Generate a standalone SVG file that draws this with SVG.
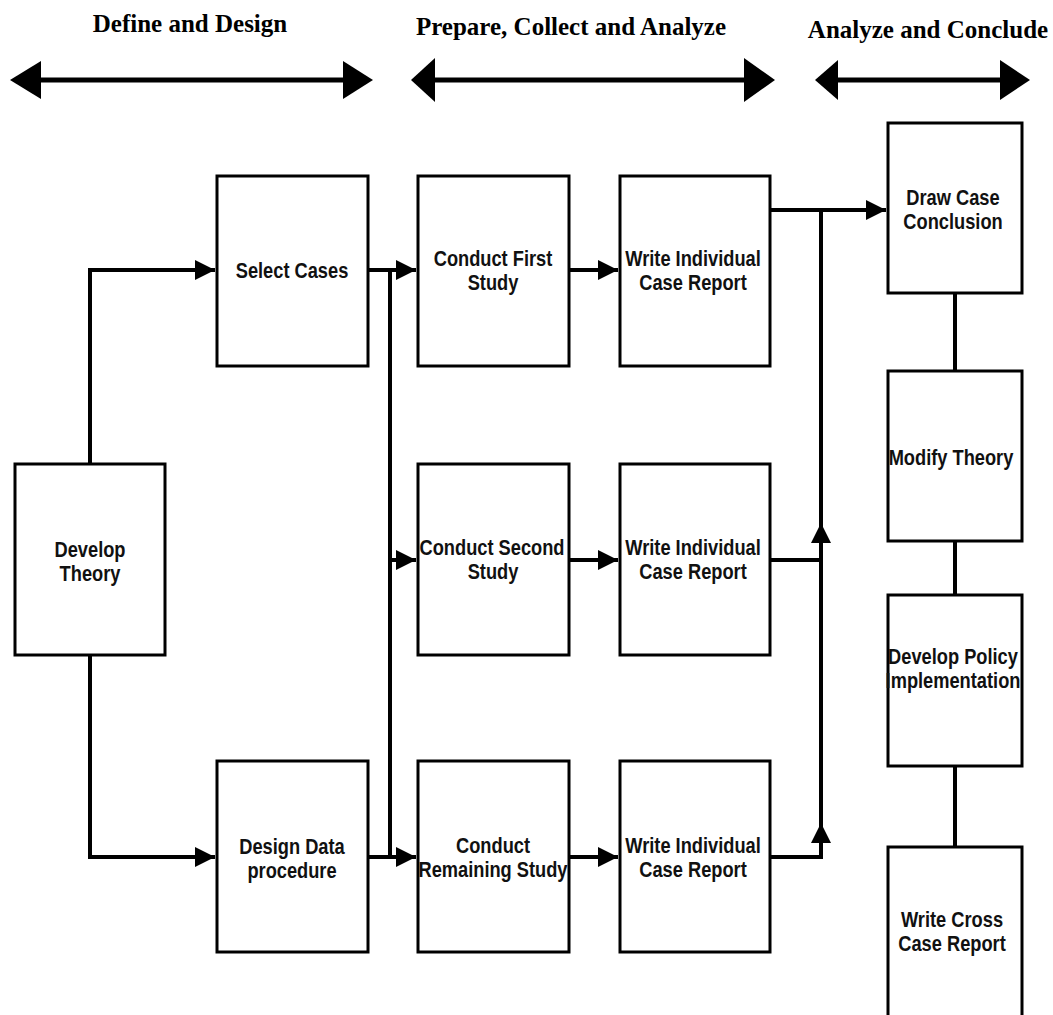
<svg xmlns="http://www.w3.org/2000/svg" width="1053" height="1015" viewBox="0 0 1053 1015">
  <defs>
    <marker id="arrow" viewBox="0 0 10 10" refX="10" refY="5" markerWidth="5" markerHeight="5" markerUnits="strokeWidth" orient="auto">
      <path d="M0,0 L10,5 L0,10 Z" fill="#000"/>
    </marker>
    <style>
      .box { fill: #fff; stroke: #000; stroke-width: 3; }
      .lbl { font-family: "Liberation Sans Narrow", "Liberation Sans", Arial, sans-serif; font-weight: bold; font-size: 22px; fill: #111; text-anchor: middle; }
      .hdr { font-family: "Liberation Serif", "Times New Roman", serif; font-weight: bold; font-size: 25px; fill: #000; text-anchor: middle; }
      .wire { fill: none; stroke: #000; stroke-width: 4; }
      .link { fill: none; stroke: #000; stroke-width: 4; }
      .span { stroke: #000; stroke-width: 5; }
      .head { fill: #000; }
    </style>
  </defs>

  <!-- phase headings with double-headed span arrows -->
  <g id="phase-define">
    <text class="hdr" x="190" y="32">Define and Design</text>
    <line class="span" x1="30" y1="80" x2="350" y2="80"/>
    <polygon class="head" points="10,80 41,61 41,99"/>
    <polygon class="head" points="373,80 343,61 343,99"/>
  </g>
  <g id="phase-prepare">
    <text class="hdr" x="571" y="35">Prepare, Collect and Analyze</text>
    <line class="span" x1="430" y1="80" x2="755" y2="80"/>
    <polygon class="head" points="411,80 435,58 435,102"/>
    <polygon class="head" points="775,80 744,58 744,102"/>
  </g>
  <g id="phase-conclude">
    <text class="hdr" x="928" y="38">Analyze and Conclude</text>
    <line class="span" x1="830" y1="80" x2="1010" y2="80"/>
    <polygon class="head" points="815,80 838,60 838,100"/>
    <polygon class="head" points="1030,80 1000,60 1000,100"/>
  </g>

  <!-- connectors -->
  <g id="connectors">
    <polyline class="wire" points="90,464 90,270 215,270" marker-end="url(#arrow)"/>
    <polyline class="wire" points="90,655 90,857 215,857" marker-end="url(#arrow)"/>
    <line class="wire" x1="368" y1="270" x2="416" y2="270" marker-end="url(#arrow)"/>
    <line class="wire" x1="368" y1="857" x2="416" y2="857" marker-end="url(#arrow)"/>
    <line class="wire" x1="390" y1="270" x2="390" y2="857"/>
    <line class="wire" x1="390" y1="560" x2="416" y2="560" marker-end="url(#arrow)"/>
    <line class="wire" x1="569" y1="270" x2="618" y2="270" marker-end="url(#arrow)"/>
    <line class="wire" x1="569" y1="560" x2="618" y2="560" marker-end="url(#arrow)"/>
    <line class="wire" x1="569" y1="857" x2="618" y2="857" marker-end="url(#arrow)"/>
    <line class="wire" x1="770" y1="210" x2="886" y2="210" marker-end="url(#arrow)"/>
    <line class="wire" x1="821" y1="210" x2="821" y2="540"/>
    <polyline class="wire" points="770,560 821,560 821,523" marker-end="url(#arrow)"/>
    <polyline class="wire" points="770,857 821,857 821,823" marker-end="url(#arrow)"/>
    <line class="wire" x1="821" y1="560" x2="821" y2="835"/>
    <line class="link" x1="955" y1="293" x2="955" y2="371"/>
    <line class="link" x1="955" y1="541" x2="955" y2="595"/>
    <line class="link" x1="955" y1="766" x2="955" y2="847"/>
  </g>

  <!-- nodes (labels are narrowed horizontally around their centre) -->
  <g id="develop-theory">
    <rect class="box" x="15" y="464" width="150" height="191"/>
    <text class="lbl" transform="translate(90 0) scale(0.83 1)" y="557">Develop</text>
    <text class="lbl" transform="translate(90 0) scale(0.83 1)" y="581">Theory</text>
  </g>
  <g id="select-cases">
    <rect class="box" x="217" y="176" width="151" height="190"/>
    <text class="lbl" transform="translate(292 0) scale(0.83 1)" y="278">Select Cases</text>
  </g>
  <g id="design-data">
    <rect class="box" x="217" y="761" width="151" height="191"/>
    <text class="lbl" transform="translate(292 0) scale(0.83 1)" y="854">Design Data</text>
    <text class="lbl" transform="translate(292 0) scale(0.83 1)" y="878">procedure</text>
  </g>
  <g id="conduct-first">
    <rect class="box" x="418" y="176" width="151" height="190"/>
    <text class="lbl" transform="translate(493 0) scale(0.83 1)" y="266">Conduct First</text>
    <text class="lbl" transform="translate(493 0) scale(0.83 1)" y="290">Study</text>
  </g>
  <g id="conduct-second">
    <rect class="box" x="418" y="464" width="151" height="191"/>
    <text class="lbl" transform="translate(492 0) scale(0.83 1)" y="555">Conduct Second</text>
    <text class="lbl" transform="translate(493 0) scale(0.83 1)" y="579">Study</text>
  </g>
  <g id="conduct-remaining">
    <rect class="box" x="418" y="761" width="151" height="191"/>
    <text class="lbl" transform="translate(493 0) scale(0.83 1)" y="853">Conduct</text>
    <text class="lbl" transform="translate(493 0) scale(0.83 1)" y="877">Remaining Study</text>
  </g>
  <g id="report-first">
    <rect class="box" x="620" y="176" width="150" height="190"/>
    <text class="lbl" transform="translate(693 0) scale(0.83 1)" y="266">Write Individual</text>
    <text class="lbl" transform="translate(693 0) scale(0.83 1)" y="290">Case Report</text>
  </g>
  <g id="report-second">
    <rect class="box" x="620" y="464" width="150" height="191"/>
    <text class="lbl" transform="translate(693 0) scale(0.83 1)" y="555">Write Individual</text>
    <text class="lbl" transform="translate(693 0) scale(0.83 1)" y="579">Case Report</text>
  </g>
  <g id="report-remaining">
    <rect class="box" x="620" y="761" width="150" height="191"/>
    <text class="lbl" transform="translate(693 0) scale(0.83 1)" y="853">Write Individual</text>
    <text class="lbl" transform="translate(693 0) scale(0.83 1)" y="877">Case Report</text>
  </g>
  <g id="draw-conclusion">
    <rect class="box" x="888" y="123" width="134" height="170"/>
    <text class="lbl" transform="translate(953 0) scale(0.83 1)" y="205">Draw Case</text>
    <text class="lbl" transform="translate(953 0) scale(0.83 1)" y="229">Conclusion</text>
  </g>
  <g id="modify-theory">
    <rect class="box" x="888" y="371" width="134" height="170"/>
    <text class="lbl" transform="translate(951 0) scale(0.83 1)" y="465">Modify Theory</text>
  </g>
  <g id="develop-policy">
    <rect class="box" x="888" y="595" width="134" height="171"/>
    <text class="lbl" transform="translate(953 0) scale(0.83 1)" y="664">Develop Policy</text>
    <text class="lbl" transform="translate(953 0) scale(0.83 1)" y="688">Implementation</text>
  </g>
  <g id="cross-case-report">
    <rect class="box" x="888" y="847" width="134" height="180"/>
    <text class="lbl" transform="translate(952 0) scale(0.83 1)" y="927">Write Cross</text>
    <text class="lbl" transform="translate(952 0) scale(0.83 1)" y="951">Case Report</text>
  </g>
</svg>
